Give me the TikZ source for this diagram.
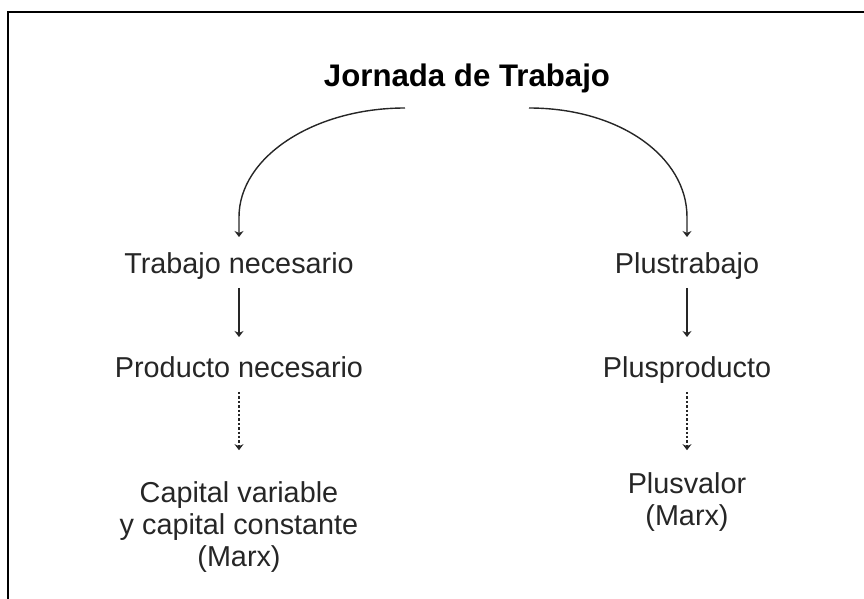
\documentclass[tikz,border=0pt]{standalone}
\usepackage{fontspec}
\setmainfont{Liberation Sans}
\usetikzlibrary{arrows.meta}

\begin{document}
\begin{tikzpicture}[x=0.5pt,y=-0.5pt,
	etiqueta/.style={inner sep=4pt, font=\fontsize{14.4}{16}\selectfont, text=black!85, align=center},
	linea/.style={etiqueta, text height=10.4pt, text depth=3.2pt},
	flecha/.style={-{Stealth[length=3pt,width=4.5pt]}, line width=0.7pt, black!85},
	punteada/.style={flecha, dash pattern=on 1.2pt off 1pt},
	node distance=52pt]
	\useasboundingbox (0,0) rectangle (864,599);
	\draw[line width=1pt] (8,599) -- (8,12.5) -- (864,12.5);
	
	\node[anchor=base, font=\fontsize{15.6}{18}\selectfont\bfseries] (jornada) at (467,87) {Jornada de Trabajo};
	\coordinate (izq) at ([xshift=-31pt, yshift=-10.5pt] jornada.base);
	\coordinate (der) at ([xshift=31pt, yshift=-10.5pt] jornada.base);
	
	\node[linea] (trabajo) at (239,266) {Trabajo necesario};
	\node[linea, right of=trabajo, node distance=224pt] (plustrabajo) {Plustrabajo};
	\node[linea, below of=trabajo] (producto) {Producto necesario};
	\node[linea, below of=plustrabajo] (plusproducto) {Plusproducto};
	\node[etiqueta, below of=producto, yshift=-26.5pt] (capital) {Capital variable\\y capital constante\\(Marx)};
	\node[etiqueta, below of=plusproducto, yshift=-14pt] (plusvalor) {Plusvalor\\(Marx)};
	
	\draw[flecha, shorten >=3.5pt] (izq) .. controls +(-45.5pt,0pt) and +(0pt,30pt) .. ([yshift=13.5pt] trabajo.north) -- (trabajo.north);
	\draw[flecha, shorten >=3.5pt] (der) .. controls +(45.5pt,0pt) and +(0pt,30pt) .. ([yshift=13.5pt] plustrabajo.north) -- (plustrabajo.north);
	\draw[flecha, shorten >=5.5pt] (trabajo) -- (producto);
	\draw[flecha, shorten >=5.5pt] (plustrabajo) -- (plusproducto);
	\draw[punteada, shorten >=11.5pt] (producto) -- (capital);
	\draw[punteada, shorten >=7pt] (plusproducto) -- (plusvalor);
\end{tikzpicture}
\end{document}
